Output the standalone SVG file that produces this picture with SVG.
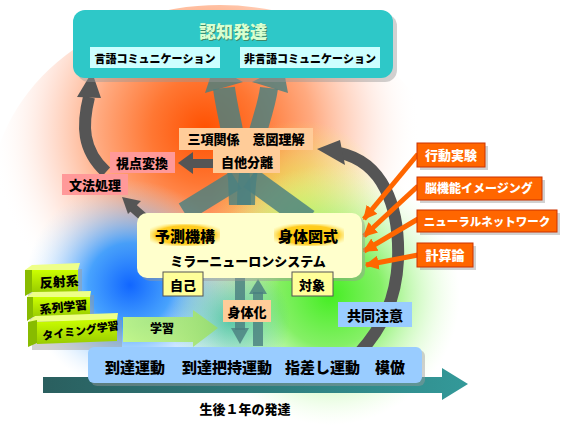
<svg xmlns="http://www.w3.org/2000/svg" width="567" height="425" viewBox="0 0 567 425">
<defs>
<radialGradient id="warm" cx="205" cy="130" r="215" gradientUnits="userSpaceOnUse">
<stop offset="0" stop-color="#FF5000"/>
<stop offset="0.25" stop-color="#FF7733"/>
<stop offset="0.5" stop-color="#FFAA80"/>
<stop offset="0.75" stop-color="#FFDDD0" stop-opacity="0.75"/>
<stop offset="1" stop-color="#FFFFFF" stop-opacity="0"/>
</radialGradient>
<radialGradient id="yel" cx="300" cy="210" r="90" gradientUnits="userSpaceOnUse">
<stop offset="0" stop-color="#DDEE44" stop-opacity="0.9"/>
<stop offset="1" stop-color="#EEFF66" stop-opacity="0"/>
</radialGradient>
<radialGradient id="grn" cx="330" cy="295" r="130" gradientUnits="userSpaceOnUse">
<stop offset="0" stop-color="#44EE22"/>
<stop offset="0.4" stop-color="#77EE55" stop-opacity="0.9"/>
<stop offset="1" stop-color="#DDFFCC" stop-opacity="0"/>
</radialGradient>
<radialGradient id="blu" cx="130" cy="285" r="105" gradientUnits="userSpaceOnUse">
<stop offset="0" stop-color="#1166FF"/>
<stop offset="0.4" stop-color="#3399FF" stop-opacity="0.9"/>
<stop offset="1" stop-color="#CCE6FF" stop-opacity="0"/>
</radialGradient>
<radialGradient id="tealmid" cx="230" cy="320" r="60" gradientUnits="userSpaceOnUse">
<stop offset="0" stop-color="#33BB99" stop-opacity="0.8"/>
<stop offset="1" stop-color="#33BB99" stop-opacity="0"/>
</radialGradient>
<linearGradient id="timeArrow" x1="0" y1="0" x2="1" y2="0">
<stop offset="0" stop-color="#2A5F5F"/>
<stop offset="1" stop-color="#339999"/>
</linearGradient>
<linearGradient id="learn" x1="0" y1="0" x2="1" y2="0">
<stop offset="0" stop-color="#CCFF77"/>
<stop offset="1" stop-color="#99DD66"/>
</linearGradient>
<linearGradient id="blockFront" x1="0" y1="0" x2="0" y2="1">
<stop offset="0" stop-color="#CCFF00"/>
<stop offset="1" stop-color="#99CC00"/>
</linearGradient>
<radialGradient id="hl" cx="0.5" cy="0.5" r="0.6">
<stop offset="0" stop-color="#FFCC00"/>
<stop offset="0.7" stop-color="#FFCC22"/>
<stop offset="1" stop-color="#FFEE88" stop-opacity="0"/>
</radialGradient>
<marker id="orHead" viewBox="0 0 10 10" refX="9" refY="5" markerWidth="14" markerHeight="14" markerUnits="userSpaceOnUse" orient="auto">
<path d="M0,0 L10,5 L0,10 Z" fill="#FF6600"/>
</marker>
<style>
.t{font-family:"Noto Sans CJK JP","Noto Sans CJK SC",sans-serif;font-weight:900;fill:#000;}
.w{fill:#fff;}
.gray{fill:#555555;}
.grayS{stroke:#555555;fill:none;}
.tree{fill:#4A8080;opacity:0.82;}
.treeS{stroke:#4A8080;fill:none;opacity:0.82;}
.peach{fill:#FFCC99;}
.pink{fill:#FF9999;}
.orBox{fill:#FF6600;stroke:#CC3300;stroke-width:1;}
.shadow{fill:#999;opacity:0.45;}
.orArr{stroke:#FF6600;stroke-width:5;fill:none;marker-end:url(#orHead);}
.ybox{fill:#FFFF99;stroke:#555;stroke-width:1;}
</style>
</defs>

<rect width="567" height="425" fill="#FFFFFF"/>
<g id="background">
<ellipse cx="220" cy="200" rx="230" ry="195" fill="url(#warm)"/>
<ellipse cx="300" cy="210" rx="90" ry="90" fill="url(#yel)"/>
<ellipse cx="330" cy="295" rx="130" ry="130" fill="url(#grn)"/>
<ellipse cx="130" cy="285" rx="105" ry="105" fill="url(#blu)"/>
<ellipse cx="230" cy="320" rx="60" ry="60" fill="url(#tealmid)"/>
</g>

<g id="connectors">
<path class="treeS" stroke-width="22" d="M240,205 C240,150 228,120 224,88"/>
<path class="treeS" stroke-width="18" d="M246,205 C246,150 265,120 269,88"/>
<polygon class="tree" points="214,66 243,82 205,93"/>
<polygon class="tree" points="283,66 288,93 252,82"/>
<path class="treeS" stroke-width="20" d="M236,180 L184,212"/>
<path class="treeS" stroke-width="22" d="M250,178 L308,220"/>
<rect class="tree" x="235" y="278" width="10" height="52"/>
<polygon class="tree" points="231,328 249,328 240,344"/>
<rect class="tree" x="253" y="292" width="10" height="54"/>
<polygon class="tree" points="249,294 267,294 258,279"/>
<path class="grayS" stroke-width="12" d="M106,172 C82,150 82,125 89,97"/>
<polygon class="gray" points="92,72 101,98 77,97"/>
<rect class="gray" x="190" y="159" width="24" height="9"/>
<polygon class="gray" points="178,163 193,152 193,174"/>
<path class="grayS" stroke-width="9" d="M157,229 L132,207"/>
<polygon class="gray" points="122,197 141,201 128,214"/>
<path class="grayS" stroke-width="12" d="M340,153 C382,162 400,205 398,260 C396,300 382,328 360,352"/>
<polygon class="gray" points="317,149 340,140 345,165"/>
<path class="orArr" d="M418,154 L364,219"/>
<path class="orArr" d="M418,186 L364,236"/>
<path class="orArr" d="M418,219 L364,251"/>
<path class="orArr" d="M418,255 L366,265"/>
<polygon points="123,317 193,317 193,310 218,328 193,347 193,342 123,342" fill="url(#learn)" opacity="0.85"/>
<polygon points="43,377 442,377 442,368 468,384 442,400 442,393 43,393" fill="url(#timeArrow)"/>
</g>

<g id="cognitive">
<rect class="shadow" x="77" y="14" width="320" height="68" rx="12"/>
<rect x="73" y="10" width="320" height="68" rx="12" fill="#2EC8C8"/>
<text class="t" x="234" y="39" font-size="17" text-anchor="middle" style="fill:#3D8A6A">認知発達</text>
<text class="t" x="233" y="38" font-size="17" text-anchor="middle" style="fill:#D8FFD0">認知発達</text>
<g id="verbal">
<rect x="90" y="47" width="130" height="21" fill="#CCFFFF"/>
<text class="t" x="155" y="63" font-size="11" text-anchor="middle">言語コミュニケーション</text>
</g>
<g id="nonverbal">
<rect x="240" y="47" width="140" height="21" fill="#CCFFFF"/>
<text class="t" x="310" y="63" font-size="11" text-anchor="middle">非言語コミュニケーション</text>
</g>
</g>

<g id="sankou">
<rect class="peach" x="179" y="128" width="134" height="22"/>
<text class="t" x="246" y="144" font-size="13" text-anchor="middle">三項関係　意図理解</text>
</g>
<g id="jita">
<rect class="peach" x="213" y="150" width="67" height="23"/>
<text class="t" x="247" y="167" font-size="13" text-anchor="middle">自他分離</text>
</g>
<g id="shiten">
<rect class="pink" x="110" y="152" width="65" height="21"/>
<text class="t" x="142" y="168" font-size="13" text-anchor="middle">視点変換</text>
</g>
<g id="bunpou">
<rect class="pink" x="62" y="174" width="66" height="21"/>
<text class="t" x="95" y="190" font-size="13" text-anchor="middle">文法処理</text>
</g>

<g id="mirror">
<rect class="shadow" x="140" y="216" width="225" height="65" rx="10"/>
<rect x="137" y="213" width="225" height="65" rx="10" fill="#FFFFCC"/>
<rect x="150" y="224" width="70" height="22" fill="url(#hl)"/>
<rect x="274" y="224" width="70" height="22" fill="url(#hl)"/>
<text class="t" x="155" y="242" font-size="15">予測機構</text>
<text class="t" x="278" y="242" font-size="15">身体図式</text>
<text class="t" x="248" y="266" font-size="13" text-anchor="middle">ミラーニューロンシステム</text>
</g>
<g id="jiko">
<rect class="ybox" x="163" y="272" width="40" height="24"/>
<text class="t" x="183" y="290" font-size="13" text-anchor="middle">自己</text>
</g>
<g id="taishou">
<rect class="ybox" x="292" y="272" width="41" height="24"/>
<text class="t" x="312" y="290" font-size="13" text-anchor="middle">対象</text>
</g>
<g id="shintaika">
<rect class="peach" x="223" y="300" width="48" height="22"/>
<text class="t" x="247" y="317" font-size="13" text-anchor="middle">身体化</text>
</g>
<g id="gakushu">
<text class="t" x="150" y="333" font-size="12">学習</text>
</g>
<g id="kyoudou">
<rect x="338" y="302" width="74" height="25" fill="#99CCFF"/>
<text class="t" x="375" y="321" font-size="14" text-anchor="middle">共同注意</text>
</g>

<g id="methods">
<g id="koudou">
<rect class="shadow" x="420" y="146" width="68" height="24"/>
<rect class="orBox" x="417" y="143" width="68" height="24"/>
<text class="t w" x="451" y="160" font-size="13" text-anchor="middle">行動実験</text>
</g>
<g id="nou">
<rect class="shadow" x="420" y="180" width="125" height="23"/>
<rect class="orBox" x="417" y="177" width="125" height="23"/>
<text class="t w" x="479" y="193" font-size="12" text-anchor="middle">脳機能イメージング</text>
</g>
<g id="neural">
<rect class="shadow" x="420" y="213" width="140" height="22"/>
<rect class="orBox" x="417" y="210" width="140" height="22"/>
<text class="t w" x="487" y="226" font-size="11.5" text-anchor="middle">ニューラルネットワーク</text>
</g>
<g id="keisan">
<rect class="shadow" x="420" y="246" width="56" height="24"/>
<rect class="orBox" x="417" y="243" width="56" height="24"/>
<text class="t w" x="445" y="260" font-size="13" text-anchor="middle">計算論</text>
</g>
</g>

<g id="blocks">
<g id="hansha">
<rect class="shadow" x="28" y="269" width="54" height="27"/>
<polygon points="25,270 32,265 80,263 78,270" fill="#EEFF88"/>
<polygon points="25,270 32,270 32,292 25,296" fill="#88BB00"/>
<rect x="32" y="270" width="46" height="22" fill="url(#blockFront)"/>
<text class="t" x="40" y="288" font-size="13" transform="rotate(-4 40 288)">反射系</text>
</g>
<g id="keiretsu">
<rect class="shadow" x="30" y="295" width="64" height="27"/>
<polygon points="27,297 33,292 91,291 90,297" fill="#EEFF88"/>
<polygon points="27,297 33,297 33,317 27,321" fill="#88BB00"/>
<rect x="33" y="297" width="57" height="20" fill="url(#blockFront)"/>
<text class="t" x="40" y="314" font-size="12" transform="rotate(-6 40 314)">系列学習</text>
</g>
<g id="timing">
<rect class="shadow" x="32" y="320" width="90" height="30"/>
<polygon points="28,322 35,316 118,313 117,320" fill="#EEFF88"/>
<polygon points="28,322 37,320 37,343 28,347" fill="#88BB00"/>
<polygon points="37,322 117,319 117,341 37,344" fill="url(#blockFront)"/>
<text class="t" x="43" y="340" font-size="11" transform="rotate(-8 43 340)">タイミング学習</text>
</g>
</g>

<g id="motor">
<rect class="shadow" x="91" y="350" width="334" height="36" rx="6"/>
<rect x="88" y="347" width="334" height="36" rx="6" fill="#99CCFF"/>
<text class="t" x="105" y="373" font-size="15">到達運動</text>
<text class="t" x="182" y="373" font-size="15">到達把持運動</text>
<text class="t" x="285" y="373" font-size="15">指差し運動</text>
<text class="t" x="375" y="373" font-size="15">模倣</text>
</g>
<g id="timeline-label">
<text class="t" x="245" y="414" font-size="13" text-anchor="middle">生後１年の発達</text>
</g>
</svg>
